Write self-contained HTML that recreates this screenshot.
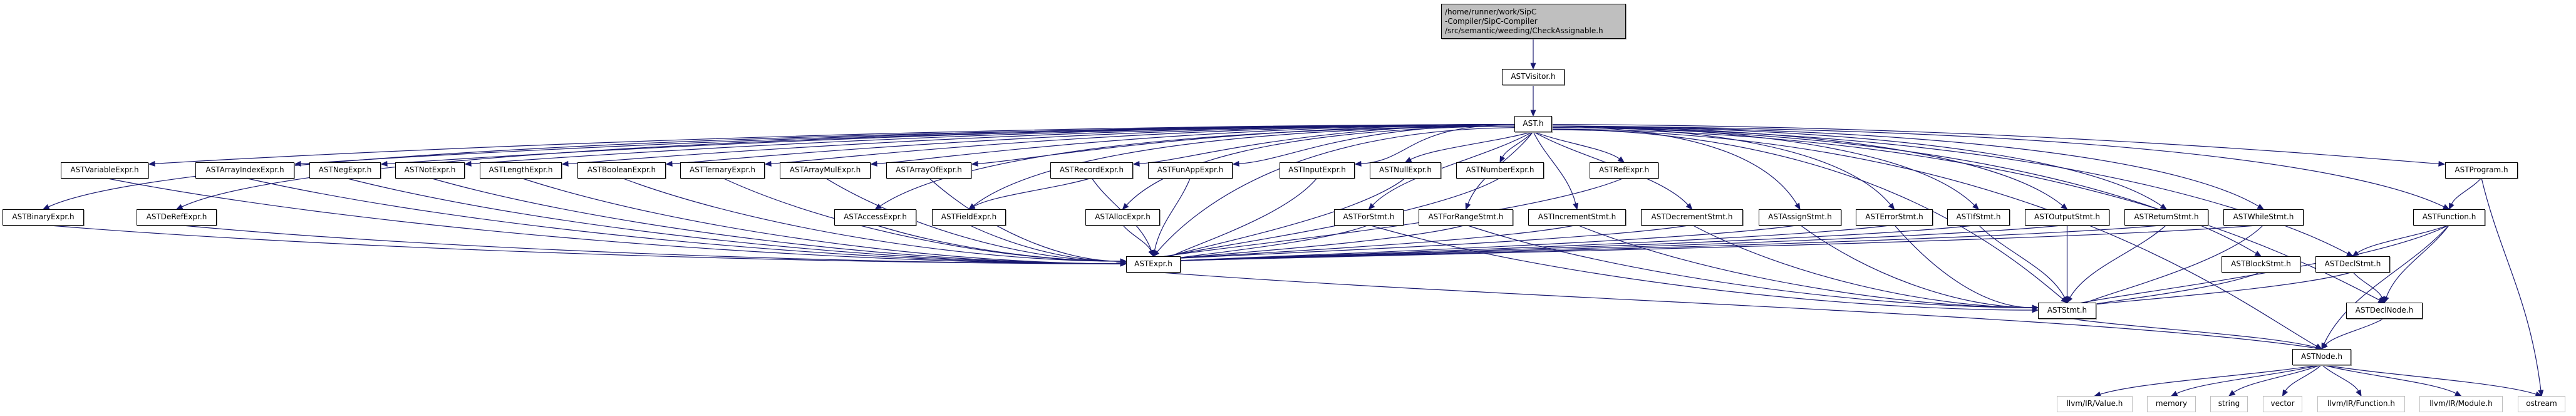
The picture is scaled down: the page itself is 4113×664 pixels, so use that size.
<!DOCTYPE html>
<html><head><meta charset="utf-8"><style>
html,body{margin:0;padding:0;background:#fff;}
body{width:4113px;height:664px;position:relative;overflow:hidden;font-family:"DejaVu Sans","Liberation Sans",sans-serif;}
.n{position:absolute;box-sizing:border-box;border:1px solid #000;background:#fff;font-size:12px;color:#000;text-align:center;line-height:23px;height:26px;white-space:nowrap;box-shadow:1px 1px 0 #999;}
.g{border-color:#bfbfbf;box-shadow:none;}
.top{background:#bfbfbf;text-align:left;line-height:15px;padding:5px 0 0 5px;height:56px;}
svg{position:absolute;left:0;top:0;}
</style></head><body>
<svg id="s" width="4113" height="664"></svg>
<div class="n top" style="left:2301px;top:6px;width:295px;">/home/runner/work/SipC<br>-Compiler/SipC-Compiler<br>/src/semantic/weeding/CheckAssignable.h</div>
<div id="nodes"></div>
<script>
var R=[6,110,185,259,334,409,483,557,632];
var N={
"ASTVisitor.h":[2398,2498,1],"AST.h":[2418,2478,2],
"ASTVariableExpr.h":[97,237,3],"ASTArrayIndexExpr.h":[312,470,3],"ASTNegExpr.h":[494,608,3],"ASTNotExpr.h":[631,742,3],"ASTLengthExpr.h":[766,897,3],"ASTBooleanExpr.h":[922,1063,3],"ASTTernaryExpr.h":[1086,1221,3],"ASTArrayMulExpr.h":[1245,1390,3],"ASTArrayOfExpr.h":[1415,1551,3],"ASTRecordExpr.h":[1677,1809,3],"ASTFunAppExpr.h":[1833,1968,3],"ASTInputExpr.h":[2043,2163,3],"ASTNullExpr.h":[2187,2301,3],"ASTNumberExpr.h":[2325,2465,3],"ASTRefExpr.h":[2538,2648,3],"ASTProgram.h":[3904,4020,3],
"ASTBinaryExpr.h":[4,134,4],"ASTDeRefExpr.h":[218,346,4],"ASTAccessExpr.h":[1332,1463,4],"ASTFieldExpr.h":[1488,1606,4],"ASTAllocExpr.h":[1733,1852,4],"ASTForStmt.h":[2130,2241,4],"ASTForRangeStmt.h":[2265,2416,4],"ASTIncrementStmt.h":[2440,2596,4],"ASTDecrementStmt.h":[2620,2783,4],"ASTAssignStmt.h":[2808,2940,4],"ASTErrorStmt.h":[2963,3086,4],"ASTIfStmt.h":[3109,3209,4],"ASTOutputStmt.h":[3233,3368,4],"ASTReturnStmt.h":[3392,3526,4],"ASTWhileStmt.h":[3550,3678,4],"ASTFunction.h":[3853,3968,4],
"ASTExpr.h":[1798,1885,5],"ASTBlockStmt.h":[3547,3673,5],"ASTDeclStmt.h":[3697,3816,5],
"ASTStmt.h":[3254,3347,6],"ASTDeclNode.h":[3746,3868,6],
"ASTNode.h":[3660,3754,7],
"llvm/IR/Value.h":[3284,3405,8],"memory":[3428,3506,8],"string":[3529,3589,8],"vector":[3613,3676,8],"llvm/IR/Function.h":[3700,3840,8],"llvm/IR/Module.h":[3863,3996,8],"ostream":[4020,4096,8]};
var h="";
for(var k in N){var v=N[k];h+='<div class="n'+(v[2]==8?' g':'')+'" style="left:'+v[0]+'px;top:'+R[v[2]]+'px;width:'+(v[1]-v[0])+'px">'+k+'</div>';}
document.getElementById("nodes").innerHTML=h;
var E=[];
function e(a,b){E.push([a,b]);}
var exprs=["ASTVariableExpr.h","ASTArrayIndexExpr.h","ASTNegExpr.h","ASTNotExpr.h","ASTLengthExpr.h","ASTBooleanExpr.h","ASTTernaryExpr.h","ASTArrayMulExpr.h","ASTArrayOfExpr.h","ASTRecordExpr.h","ASTFunAppExpr.h","ASTInputExpr.h","ASTNullExpr.h","ASTNumberExpr.h","ASTRefExpr.h","ASTBinaryExpr.h","ASTDeRefExpr.h","ASTAccessExpr.h","ASTFieldExpr.h","ASTAllocExpr.h"];
var stmts=["ASTForStmt.h","ASTForRangeStmt.h","ASTIncrementStmt.h","ASTDecrementStmt.h","ASTAssignStmt.h","ASTErrorStmt.h","ASTIfStmt.h","ASTOutputStmt.h","ASTReturnStmt.h","ASTWhileStmt.h"];
exprs.forEach(function(x){e("AST.h",x);e(x,"ASTExpr.h");});
stmts.forEach(function(x){e("AST.h",x);e(x,"ASTStmt.h");e(x,"ASTExpr.h");});
["ASTFunction.h","ASTProgram.h","ASTBlockStmt.h","ASTDeclStmt.h","ASTDeclNode.h","ASTNode.h","ASTExpr.h","ASTStmt.h"].forEach(function(x){e("AST.h",x);});
e("ASTRecordExpr.h","ASTFieldExpr.h");
e("ASTBlockStmt.h","ASTStmt.h");e("ASTDeclStmt.h","ASTStmt.h");e("ASTDeclStmt.h","ASTDeclNode.h");
e("ASTFunction.h","ASTDeclStmt.h");e("ASTFunction.h","ASTStmt.h");e("ASTFunction.h","ASTDeclNode.h");e("ASTFunction.h","ASTNode.h");
e("ASTProgram.h","ASTFunction.h");e("ASTProgram.h","ostream");
e("ASTExpr.h","ASTNode.h");e("ASTStmt.h","ASTNode.h");e("ASTDeclNode.h","ASTNode.h");
["llvm/IR/Value.h","memory","string","vector","llvm/IR/Function.h","llvm/IR/Module.h","ostream"].forEach(function(x){e("ASTNode.h",x);});
var C="#191970",p="";
function path(x0,y0,c1x,c1y,c2x,c2y,x3,y3){
 var dx=x3-c2x,dy=y3-c2y;if(Math.abs(dx)+Math.abs(dy)<1){dx=x3-x0;dy=y3-y0;}
 var L=Math.sqrt(dx*dx+dy*dy);dx/=L;dy/=L;
 var ex=x3-dx*9,ey=y3-dy*9;
 p+='<path d="M'+x0+','+y0+' C'+c1x+','+c1y+' '+c2x+','+c2y+' '+ex+','+ey+'" fill="none" stroke="'+C+'" stroke-width="1.2"/>';
 p+='<polygon points="'+x3+','+y3+' '+(ex-dy*3.8)+','+(ey+dx*3.8)+' '+(ex+dy*3.8)+','+(ey-dx*3.8)+'" fill="'+C+'" stroke="'+C+'"/>';
}
path(2448,62,2448,80,2448,95,2448,110);
path(2448,136,2448,155,2448,170,2448,185);
E.forEach(function(q){
 var s=N[q[0]],t=N[q[1]];
 var sx=(s[0]+s[1])/2,sy=R[s[2]]+25,tx=(t[0]+t[1])/2,ty=R[t[2]];
 var dx=tx-sx,dy=ty-sy;
 if(q[0]=="AST.h"&&Math.abs(dx)>300){
  var sg=dx<0?-1:1;
  var x0=sg<0?2418:2478,y0=197+Math.max(-10,Math.min(10,dy/30));
  if(t[2]==3){
   var ex=sg<0?t[1]+1:t[0]-1,ey=ty+3;
   path(x0,y0,x0+dx*0.5,y0+2,ex-sg*90,ey-6,ex,ey);return;
  }
  path(x0,y0,x0+dx*0.6,y0+4,tx-sg*Math.min(150,Math.abs(dx)*0.1),ty-70,tx,ty);return;
 }
 if((q[1]=="ASTExpr.h"||q[1]=="ASTStmt.h")&&Math.abs(dx)>260){
  var sg=dx<0?-1:1;var ex=sg>0?t[0]:t[1];var ey=ty+8+ (Math.abs(dx)>1000?4:0);
  path(sx,sy,sx+dx*0.25,sy+(ey-sy)*0.6,ex-sg*dx*0.3,ey,ex,ey);return;
 }
 path(sx,sy,sx+dx*0.3,sy+dy*0.35,tx-dx*0.2,ty-dy*0.45,tx,ty);
});
document.getElementById("s").innerHTML=p;
</script>
</body></html>
